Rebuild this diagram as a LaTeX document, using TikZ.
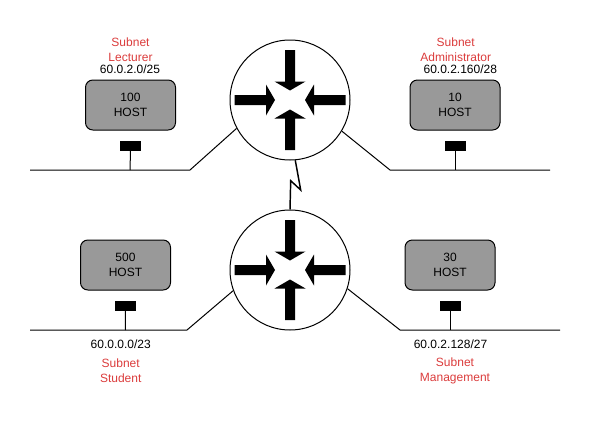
\documentclass[tikz,border=0pt]{standalone}
\usepackage{fontspec}
\setmainfont{Liberation Sans}
\usetikzlibrary{positioning}

\definecolor{subnetred}{RGB}{219,60,60}

\tikzstyle{every node}=[font={\fontsize{9}{10.8}\selectfont}, align=center, inner sep=0pt]
\tikzstyle{router}=[draw=black, circle, minimum size=90pt, fill=white, line width=0.75pt]
\tikzstyle{host}=[draw=black, fill=black!40, rounded corners=5.5pt, minimum width=67.5pt, minimum height=37.5pt, line width=0.75pt]
\tikzstyle{port}=[fill=black, minimum width=15.75pt, minimum height=7.5pt]
\tikzstyle{subnet}=[text=subnetred, font={\fontsize{9}{11.25}\selectfont}]
\tikzstyle{wire}=[draw=black, line width=0.75pt]
\tikzstyle{serial}=[draw=black, line width=1.1pt]
\tikzstyle{routerarrow}=[fill=black]

\begin{document}
\begin{tikzpicture}[x=0.75pt, y=-0.75pt]
    \useasboundingbox (0,0) rectangle (592,421);

    \node [router] (rtop) at (290,100) {};
    \node [router] (rbot) at (290,270) {};

    \foreach \rtr in {rtop,rbot}
        \foreach \ang/\off in {0/0,90/5.5,180/0,270/5.5}
            \fill [routerarrow, shift={(\rtr)}, rotate=\ang, yshift=\off*0.75pt] (-5,-50) -- (5,-50) -- (5,-18.5) -- (15.5,-18.5) -- (0,-9.5) -- (-15.5,-18.5) -- (-5,-18.5) -- cycle;

    \node [host] (lecturer) at (130.5,105) {100\\HOST};
    \node [host] (admin) at (455,105) {10\\HOST};
    \node [host] (student) at (125.5,265) {500\\HOST};
    \node [host] (mgmt) at (450,265) {30\\HOST};

    \node [port, below=7.5pt of lecturer] (plecturer) {};
    \node [port, below=7.5pt of admin] (padmin) {};
    \node [port, below=7.5pt of student] (pstudent) {};
    \node [port, below=7.5pt of mgmt] (pmgmt) {};

    \node [subnet] (nlecturer) at (130.5,50) {Subnet\\Lecturer};
    \node (alecturer) at (130,69.5) {60.0.2.0/25};
    \node [subnet] (nadmin) at (455.7,50) {Subnet\\Administrator};
    \node (aadmin) at (460.3,69.5) {60.0.2.160/28};
    \node (astudent) at (120.7,344) {60.0.0.0/23};
    \node [subnet] (nstudent) at (120.7,370.5) {Subnet\\Student};
    \node (amgmt) at (450.5,344) {60.0.2.128/27};
    \node [subnet] (nmgmt) at (455,370.5) {Subnet\\Management};

    \coordinate (busa) at (30,170);
    \coordinate (busb) at (190,170);
    \coordinate (tapa) at (130,170);
    \coordinate (busc) at (390,170);
    \coordinate (busd) at (550,170);
    \coordinate (tapb) at (455,170);
    \coordinate (buse) at (30,330);
    \coordinate (busf) at (187,330);
    \coordinate (tapc) at (125.3,330);
    \coordinate (busg) at (400,330);
    \coordinate (bush) at (560,330);
    \coordinate (tapd) at (450,330);
    \coordinate (kinka) at (300.7,190);
    \coordinate (kinkb) at (290.7,180.7);

    \draw [wire] (busa) -- (busb) -- (rtop.208);
    \draw [wire] (busd) -- (busc) -- (rtop.-31);
    \draw [wire] (buse) -- (busf) -- (rbot.200);
    \draw [wire] (bush) -- (busg) -- (rbot.-18);
    \draw [wire] (plecturer.south) -- (tapa);
    \draw [wire] (padmin.south) -- (tapb);
    \draw [wire] (pstudent.south) -- (tapc);
    \draw [wire] (pmgmt.south) -- (tapd);
    \draw [serial] (rtop.-85) -- (kinka) -- (kinkb) -- (rbot.north);
\end{tikzpicture}
\end{document}
